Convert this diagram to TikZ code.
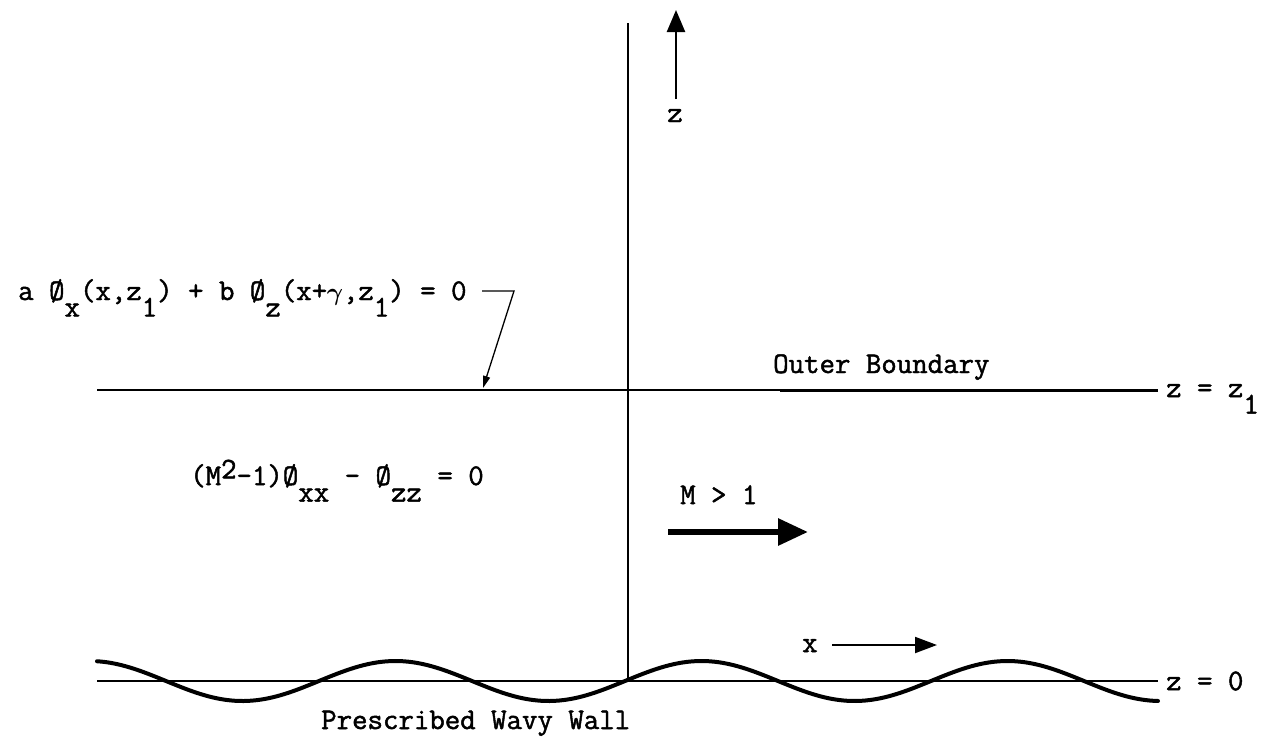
\documentclass[tikz,border=0pt]{standalone}
\usepackage{fontspec}
\usetikzlibrary{arrows.meta}
\newfontfamily\twfont{Latin Modern Mono}[FakeBold=1.6]
\newcommand{\subx}[1]{\raisebox{-0.55em}{#1}}
\newcommand{\supx}[1]{\raisebox{0.22em}{#1}}
\newcommand{\gam}{\makebox[0.525em]{\boldmath$\gamma$}}
\begin{document}
\begin{tikzpicture}[x=1pt,y=-1pt,
  lbl/.style={inner sep=0pt,font=\fontsize{30}{34}\selectfont\twfont},
  thinline/.style={line width=1.5pt},
  axisline/.style={line width=2.2pt},
  wallline/.style={line width=4pt,line cap=round},
  bigarrow/.style={line width=6pt,-{Triangle[length=30pt,width=26pt]}},
  midarrow/.style={line width=2.4pt,-{Triangle[length=22pt,width=18pt]}},
  smallarrow/.style={line width=2pt,-{Triangle[length=22pt,width=16pt]}},
  leader/.style={line width=1.3pt,-{Triangle[length=12pt,width=7pt]}}]
\useasboundingbox (0,0) rectangle (1264,740);
% coordinates
\coordinate (axb) at (628,681);
\coordinate (axt) at (628,23);
\coordinate (wl) at (97,681);
\coordinate (wr) at (1158,681);
\coordinate (obl) at (97,390);
\coordinate (obm) at (780,390);
\coordinate (obr) at (1158,390);
\coordinate (za1) at (676,99);
\coordinate (za2) at (676,10);
\coordinate (ma1) at (668,532);
\coordinate (ma2) at (808,532);
\coordinate (xa1) at (832,645);
\coordinate (xa2) at (937,645);
\coordinate (ld1) at (482,291);
\coordinate (ld2) at (514,291);
\coordinate (ld3) at (483,388);
% lines
\draw[axisline] (axb) -- (axt);
\draw[thinline] (wl) -- (wr);
\draw[thinline] (obl) -- (obr);
\draw[line width=3pt] (obm) -- (obr);
\draw[wallline] plot[domain=97:1158,samples=240,smooth] (\x,{681-20*sin((\x-625)*1.17647)});
% arrows
\draw[midarrow] (za1) -- (za2);
\draw[bigarrow] (ma1) -- (ma2);
\draw[smallarrow] (xa1) -- (xa2);
\draw[leader] (ld1) -- (ld2) -- (ld3);
% labels
\node[lbl,anchor=base] (zlab) at (675,122) {z};
\node[lbl,anchor=base west] (xlab) at (802,652) {x};
\node[lbl,anchor=base west] (mlab) at (680,504) {M > 1};
\node[lbl,anchor=base west] (oblab) at (773,373) {Outer Boundary};
\node[lbl,anchor=base west] (z1lab) at (1166,397) {z = z\subx{1}};
\node[lbl,anchor=west] (z0lab) at (1166,681) {z = 0};
\node[lbl,anchor=base west] (walllab) at (321,729) {Prescribed Wavy Wall};
\node[lbl,anchor=base west] (topeq) at (18,300) {a Ø\subx{x}(x,z\subx{1}) + b Ø\subx{z}(x+\gam,z\subx{1}) = 0};
\node[lbl,anchor=base west] (mideq) at (190,485) {(M\supx{2}-1)Ø\subx{xx} - Ø\subx{zz} = 0};
\end{tikzpicture}
\end{document}
